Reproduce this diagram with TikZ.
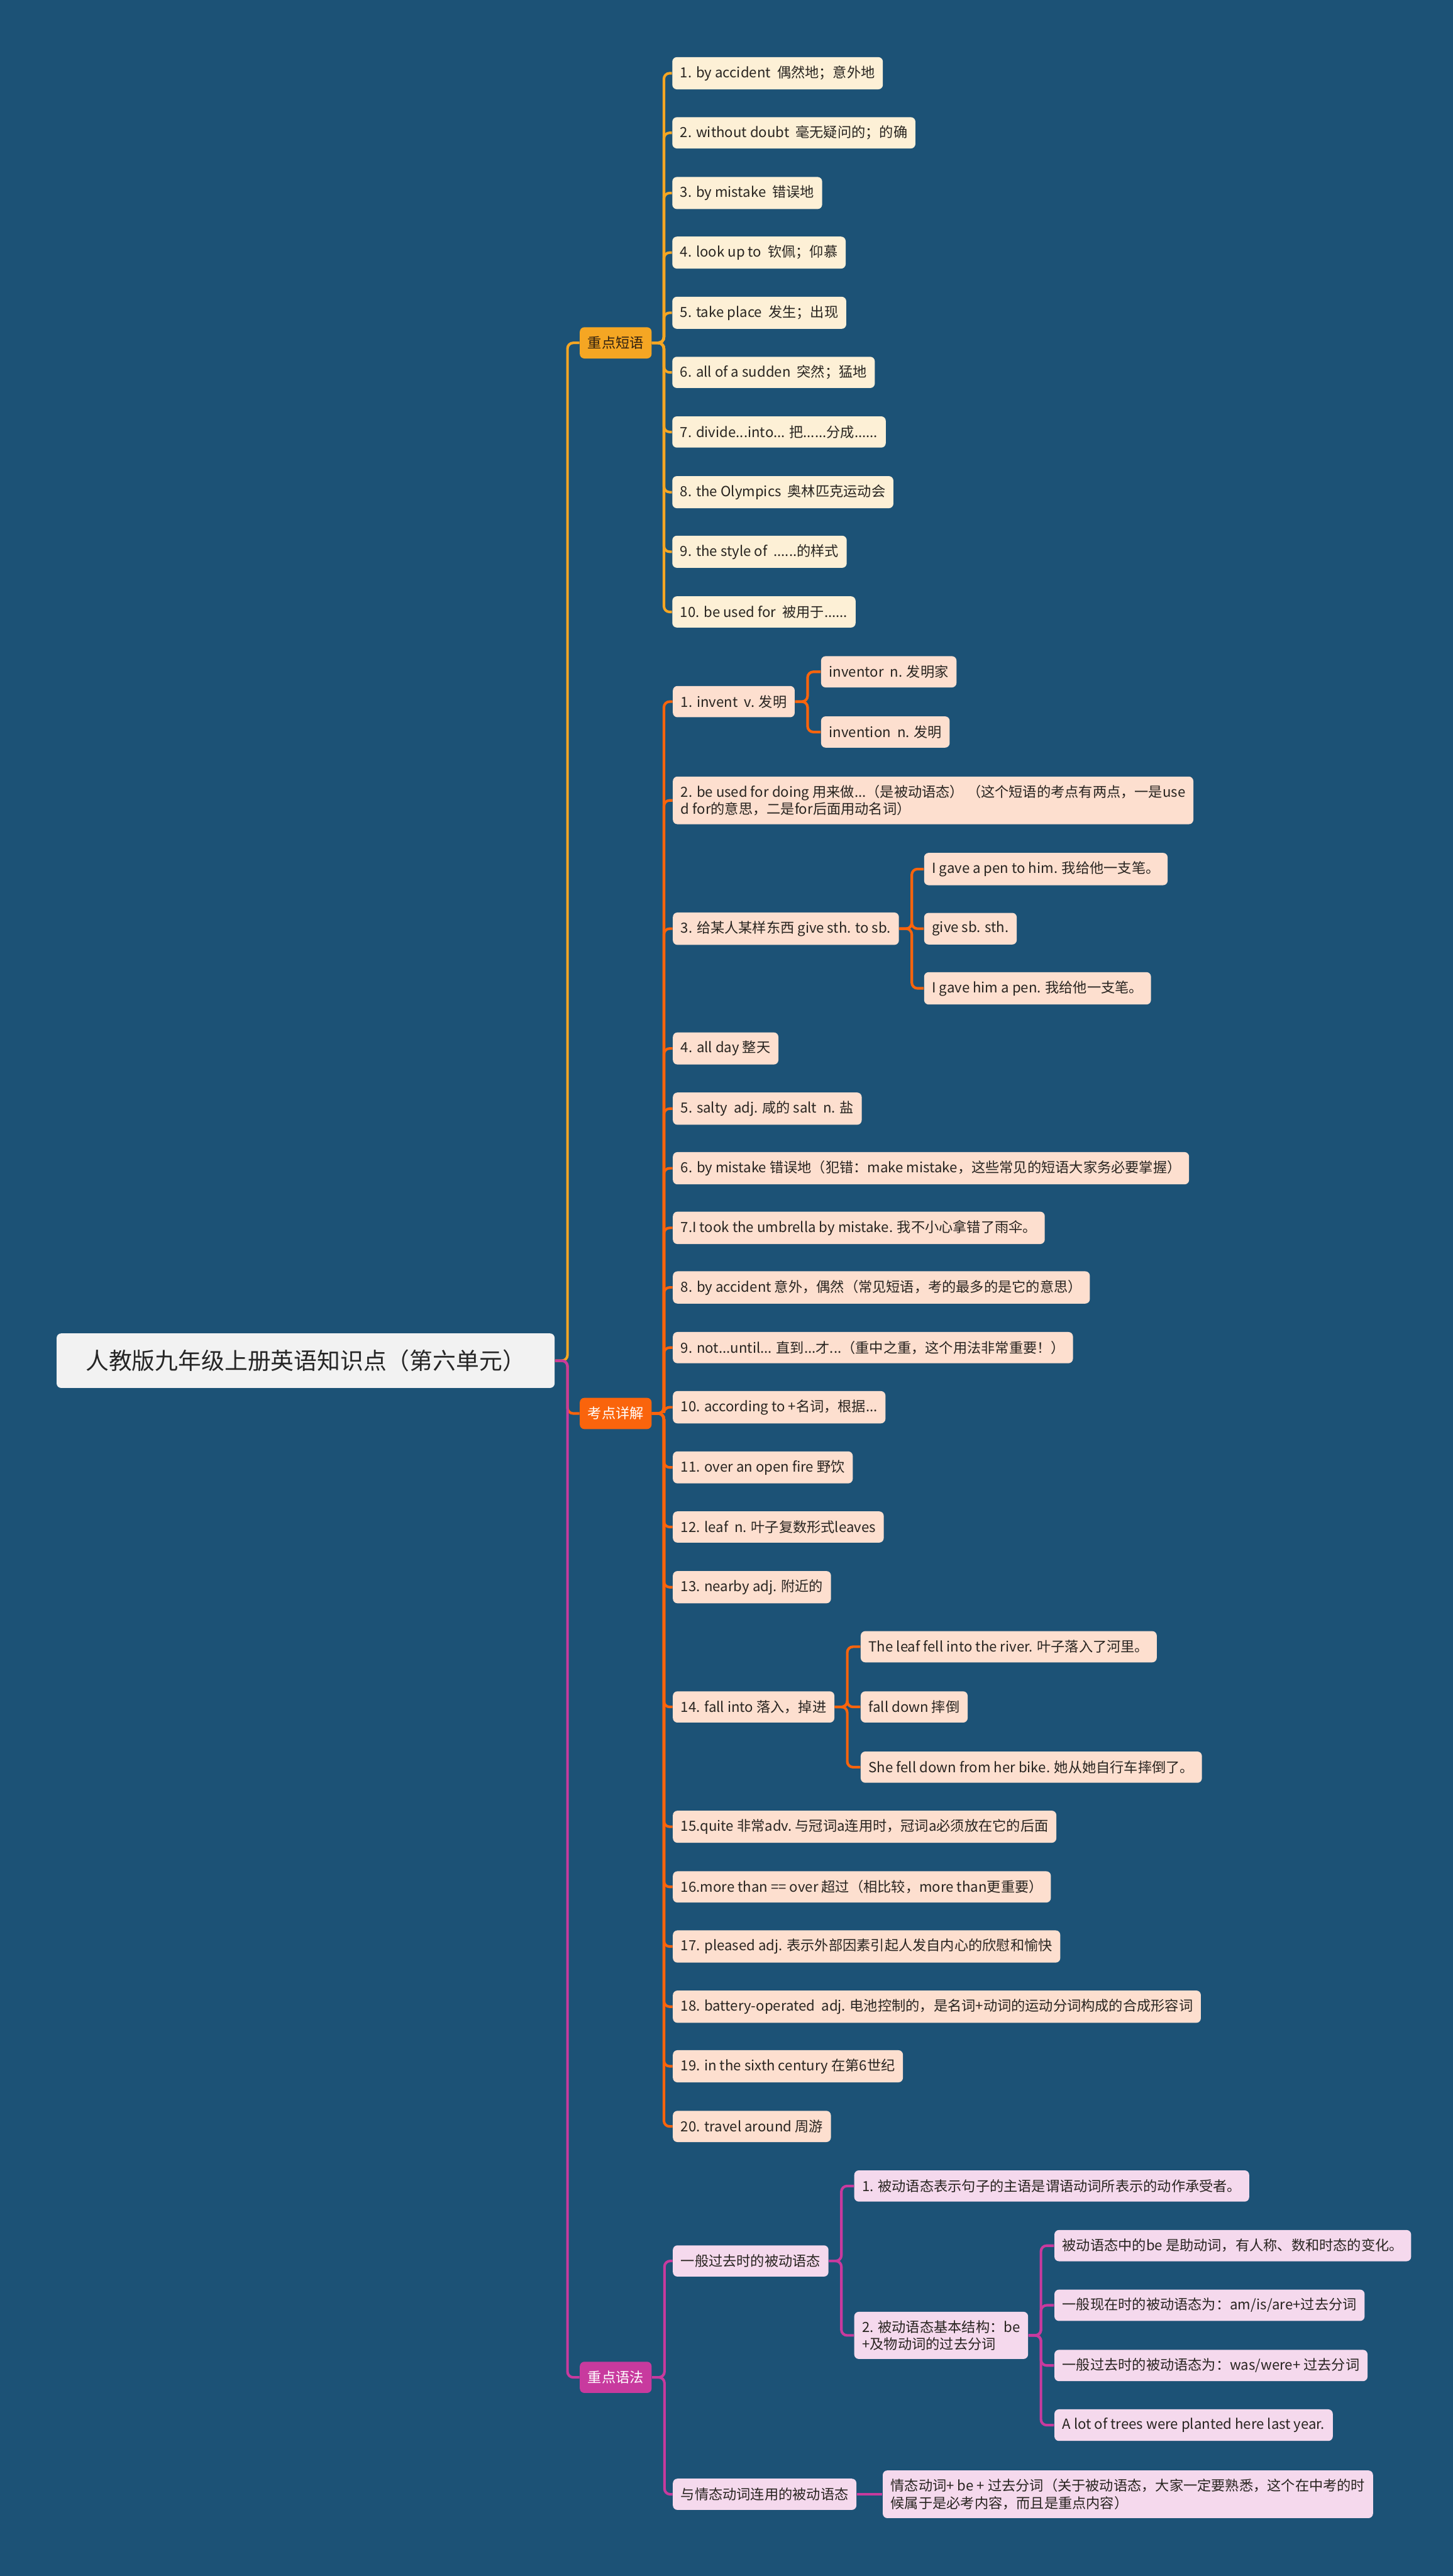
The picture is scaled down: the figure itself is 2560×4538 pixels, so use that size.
\documentclass[tikz,border=0pt]{standalone}
\usepackage{fontspec}
\setmainfont{Noto Sans CJK SC}
\usetikzlibrary{positioning}

\definecolor{bgblue}{RGB}{28,82,118}
\definecolor{zdcol}{RGB}{245,166,35}
\definecolor{zdfill}{RGB}{253,240,214}
\definecolor{kdcol}{RGB}{250,100,12}
\definecolor{kdfill}{RGB}{253,223,207}
\definecolor{yfcol}{RGB}{200,58,158}
\definecolor{yffill}{RGB}{245,217,237}
\definecolor{leaftext}{RGB}{40,36,32}

\begin{document}
\begin{tikzpicture}[x=0.01cm, y=-0.01cm,
    every node/.style={font=\fontsize{7}{8.6}\selectfont, inner xsep=0.14cm, inner ysep=0.15cm,
      minimum height=0.55cm, rounded corners=0.08cm, anchor=west, text=leaftext},
    rootbox/.style={fill=black!5, anchor=east, minimum width=8.77cm, minimum height=0.96cm,
      font=\fontsize{11.6}{13}\selectfont, text=black!85},
    zdbox/.style={fill=zdcol, text=black!75!brown},
    kdbox/.style={fill=kdcol, text=white},
    yfbox/.style={fill=yfcol, text=white},
    zdleaf/.style={fill=zdfill},
    kdleaf/.style={fill=kdfill},
    yfleaf/.style={fill=yffill},
    zdline/.style={draw=zdcol, line width=1.3pt, rounded corners=0.1cm},
    kdline/.style={draw=kdcol, line width=1.3pt, rounded corners=0.1cm},
    yfline/.style={draw=yfcol, line width=1.3pt, rounded corners=0.1cm}]

  \fill[bgblue] (0,0) rectangle (2560,4538);
  \useasboundingbox (0,0) rectangle (2560,4538);

  % root and the three branches
  \node (root) [rootbox] at (978,2397) {人教版九年级上册英语知识点（第六单元）};
  \node (zd) [zdbox] at (1021,604) {重点短语};
  \node (kd) [kdbox] at (1021,2490) {考点详解};
  \node (yf) [yfbox] at (1021,4188) {重点语法};

  % 重点短语
  \node (z1) [zdleaf] at (1184,129) {1. by accident\ \ 偶然地；意外地};
  \node (z2) [zdleaf] at (1184,234) {2. without doubt\ \ 毫无疑问的；的确};
  \node (z3) [zdleaf] at (1184,340) {3. by mistake\ \ 错误地};
  \node (z4) [zdleaf] at (1184,445) {4. look up to\ \ 钦佩；仰慕};
  \node (z5) [zdleaf] at (1184,551) {5. take place\ \ 发生；出现};
  \node (z6) [zdleaf] at (1184,656) {6. all of a sudden\ \ 突然；猛地};
  \node (z7) [zdleaf] at (1184,761) {7. divide...into... 把......分成......};
  \node (z8) [zdleaf] at (1184,867) {8. the Olympics\ \ 奥林匹克运动会};
  \node (z9) [zdleaf] at (1184,972) {9. the style of\ \ ......的样式};
  \node (z10) [zdleaf] at (1184,1078) {10. be used for\ \ 被用于......};

  % 考点详解
  \node (k1) [kdleaf] at (1185,1236) {1. invent\ \ v. 发明};
  \node (k1a) [kdleaf, right=0.45cm of k1, yshift=0.525cm] {inventor\ \ n. 发明家};
  \node (k1b) [kdleaf, right=0.45cm of k1, yshift=-0.535cm] {invention\ \ n. 发明};
  \node (k2) [kdleaf, align=left] at (1185,1410)
        {2. be used for doing 用来做...（是被动语态）\ （这个短语的考点有两点，一是use\\d for的意思，二是for后面用动名词）};
  \node (k3) [kdleaf] at (1185,1636) {3. 给某人某样东西 give sth. to sb.};
  \node (k3a) [kdleaf, right=0.43cm of k3, yshift=1.05cm] {I gave a pen to him. 我给他一支笔。};
  \node (k3b) [kdleaf, right=0.43cm of k3] {give sb. sth.};
  \node (k3c) [kdleaf, right=0.43cm of k3, yshift=-1.05cm] {I gave him a pen. 我给他一支笔。};
  \node (k4) [kdleaf] at (1185,1847) {4. all day 整天};
  \node (k5) [kdleaf] at (1185,1953) {5. salty\ \ adj. 咸的 salt\ \ n. 盐};
  \node (k6) [kdleaf] at (1185,2058) {6. by mistake 错误地（犯错：make mistake，这些常见的短语大家务必要掌握）};
  \node (k7) [kdleaf] at (1185,2163) {7.I took the umbrella by mistake. 我不小心拿错了雨伞。};
  \node (k8) [kdleaf] at (1185,2268) {8. by accident 意外，偶然（常见短语，考的最多的是它的意思）};
  \node (k9) [kdleaf] at (1185,2374) {9. not...until... 直到...才...（重中之重，这个用法非常重要！）};
  \node (k10) [kdleaf] at (1185,2479) {10. according to +名词，根据...};
  \node (k11) [kdleaf] at (1185,2585) {11. over an open fire 野饮};
  \node (k12) [kdleaf] at (1185,2690) {12. leaf\ \ n. 叶子复数形式leaves};
  \node (k13) [kdleaf] at (1185,2796) {13. nearby adj. 附近的};
  \node (k14) [kdleaf] at (1185,3007) {14. fall into 落入，掉进};
  \node (k14a) [kdleaf, right=0.45cm of k14, yshift=1.06cm] {The leaf fell into the river. 叶子落入了河里。};
  \node (k14b) [kdleaf, right=0.45cm of k14] {fall down 摔倒};
  \node (k14c) [kdleaf, right=0.45cm of k14, yshift=-1.06cm] {She fell down from her bike. 她从她自行车摔倒了。};
  \node (k15) [kdleaf] at (1185,3218) {15.quite 非常adv.\ 与冠词a连用时，冠词a必须放在它的后面};
  \node (k16) [kdleaf] at (1185,3324) {16.more than == over 超过（相比较，more than更重要）};
  \node (k17) [kdleaf] at (1185,3429) {17. pleased adj. 表示外部因素引起人发自内心的欣慰和愉快};
  \node (k18) [kdleaf] at (1185,3535) {18. battery-operated\ \ adj. 电池控制的，是名词+动词的运动分词构成的合成形容词};
  \node (k19) [kdleaf] at (1185,3640) {19. in the sixth century 在第6世纪};
  \node (k20) [kdleaf] at (1185,3746) {20. travel around 周游};

  % 重点语法
  \node (y1) [yfleaf] at (1185,3983) {一般过去时的被动语态};
  \node (y1a) [yfleaf, right=0.44cm of y1, yshift=1.32cm] {1. 被动语态表示句子的主语是谓语动词所表示的动作承受者。};
  \node (y1b) [yfleaf, align=left, right=0.44cm of y1, yshift=-1.31cm] {2. 被动语态基本结构：be\\+及物动词的过去分词};
  \node (y1b1) [yfleaf, right=0.45cm of y1b, yshift=1.58cm] {被动语态中的be 是助动词，有人称、数和时态的变化。};
  \node (y1b2) [yfleaf, right=0.45cm of y1b, yshift=0.53cm] {一般现在时的被动语态为：am/is/are+过去分词};
  \node (y1b3) [yfleaf, right=0.45cm of y1b, yshift=-0.53cm] {一般过去时的被动语态为：was/were+ 过去分词};
  \node (y1b4) [yfleaf, right=0.45cm of y1b, yshift=-1.58cm] {A lot of trees were planted here last year.};
  \node (y2) [yfleaf] at (1185,4394) {与情态动词连用的被动语态};
  \node (y2a) [yfleaf, align=left, right=0.45cm of y2]
        {情态动词+ be + 过去分词（关于被动语态，大家一定要熟悉，这个在中考的时\\候属于是必考内容，而且是重点内容）};

  % connectors
  \draw[zdline] (root.east) -- ++(22,0) |- (zd.west);
  \draw[kdline] (root.east) -- ++(22,0) |- (kd.west);
  \draw[yfline] (root.east) -- ++(22,0) |- (yf.west);

  \draw[zdline] (zd.east) -- ++(21,0) |- (z1.west);
  \draw[zdline] (zd.east) -- ++(21,0) |- (z2.west);
  \draw[zdline] (zd.east) -- ++(21,0) |- (z3.west);
  \draw[zdline] (zd.east) -- ++(21,0) |- (z4.west);
  \draw[zdline] (zd.east) -- ++(21,0) |- (z5.west);
  \draw[zdline] (zd.east) -- ++(21,0) |- (z6.west);
  \draw[zdline] (zd.east) -- ++(21,0) |- (z7.west);
  \draw[zdline] (zd.east) -- ++(21,0) |- (z8.west);
  \draw[zdline] (zd.east) -- ++(21,0) |- (z9.west);
  \draw[zdline] (zd.east) -- ++(21,0) |- (z10.west);

  \draw[kdline] (kd.east) -- ++(21,0) |- (k1.west);
  \draw[kdline] (kd.east) -- ++(21,0) |- (k2.west);
  \draw[kdline] (kd.east) -- ++(21,0) |- (k3.west);
  \draw[kdline] (kd.east) -- ++(21,0) |- (k4.west);
  \draw[kdline] (kd.east) -- ++(21,0) |- (k5.west);
  \draw[kdline] (kd.east) -- ++(21,0) |- (k6.west);
  \draw[kdline] (kd.east) -- ++(21,0) |- (k7.west);
  \draw[kdline] (kd.east) -- ++(21,0) |- (k8.west);
  \draw[kdline] (kd.east) -- ++(21,0) |- (k9.west);
  \draw[kdline] (kd.east) -- ++(21,0) |- (k10.west);
  \draw[kdline] (kd.east) -- ++(21,0) |- (k11.west);
  \draw[kdline] (kd.east) -- ++(21,0) |- (k12.west);
  \draw[kdline] (kd.east) -- ++(21,0) |- (k13.west);
  \draw[kdline] (kd.east) -- ++(21,0) |- (k14.west);
  \draw[kdline] (kd.east) -- ++(21,0) |- (k15.west);
  \draw[kdline] (kd.east) -- ++(21,0) |- (k16.west);
  \draw[kdline] (kd.east) -- ++(21,0) |- (k17.west);
  \draw[kdline] (kd.east) -- ++(21,0) |- (k18.west);
  \draw[kdline] (kd.east) -- ++(21,0) |- (k19.west);
  \draw[kdline] (kd.east) -- ++(21,0) |- (k20.west);
  \draw[kdline] (k1.east) -- ++(22,0) |- (k1a.west);
  \draw[kdline] (k1.east) -- ++(22,0) |- (k1b.west);
  \draw[kdline] (k3.east) -- ++(22,0) |- (k3a.west);
  \draw[kdline] (k3.east) -- ++(22,0) |- (k3b.west);
  \draw[kdline] (k3.east) -- ++(22,0) |- (k3c.west);
  \draw[kdline] (k14.east) -- ++(22,0) |- (k14a.west);
  \draw[kdline] (k14.east) -- ++(22,0) |- (k14b.west);
  \draw[kdline] (k14.east) -- ++(22,0) |- (k14c.west);

  \draw[yfline] (yf.east) -- ++(22,0) |- (y1.west);
  \draw[yfline] (yf.east) -- ++(22,0) |- (y2.west);
  \draw[yfline] (y1.east) -- ++(22,0) |- (y1a.west);
  \draw[yfline] (y1.east) -- ++(22,0) |- (y1b.west);
  \draw[yfline] (y1b.east) -- ++(22,0) |- (y1b1.west);
  \draw[yfline] (y1b.east) -- ++(22,0) |- (y1b2.west);
  \draw[yfline] (y1b.east) -- ++(22,0) |- (y1b3.west);
  \draw[yfline] (y1b.east) -- ++(22,0) |- (y1b4.west);
  \draw[yfline] (y2.east) -- (y2a.west);
\end{tikzpicture}
\end{document}
